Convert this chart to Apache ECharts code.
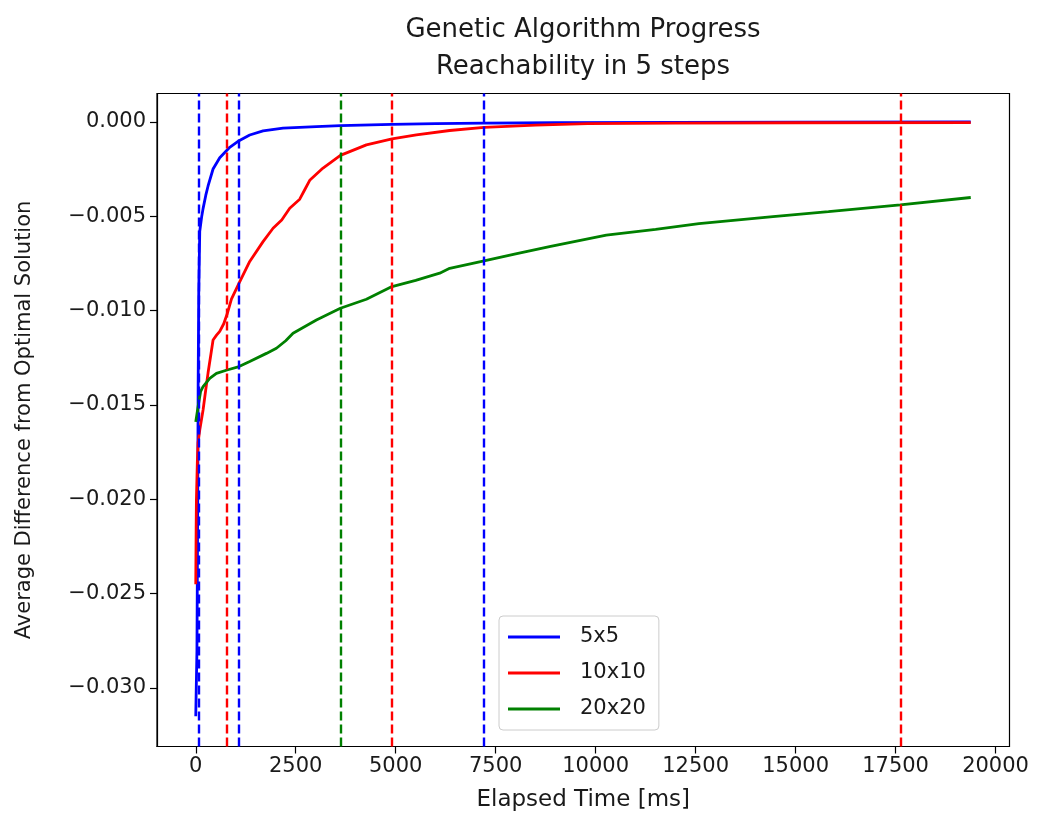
<!DOCTYPE html>
<html>
<head>
<meta charset="utf-8">
<script src="https://cdn.jsdelivr.net/npm/echarts@6/dist/echarts.min.js"></script>
<style>
  html, body { margin: 0; padding: 0; background: #fff; }
  #main { width: 1037px; height: 822px; }
</style>
</head>
<body>
<div id="main"></div>
<script>
// 数据：各网格规模的平均差值（时间 ms -> 值）
var seriesNames = ['5x5', '10x10', '20x20'];
var seriesColors = ['#0000ff', '#ff0000', '#008000'];

var blueTimes = [0, 30, 50, 60, 75, 100, 150, 183, 250, 308, 433, 600, 850, 1083, 1350, 1683, 2183, 3017, 3617, 4900, 6000, 7200, 9000, 12000, 15000, 19380];
var blueValues = [-0.0315, -0.028, -0.020, -0.014, -0.009, -0.0058, -0.0050, -0.0046, -0.0039, -0.0034, -0.0025, -0.0019, -0.00135, -0.0010, -0.0007, -0.00048, -0.00034, -0.00025, -0.0002, -0.00014, -0.0001, -0.00007, -0.00005, -0.00003, -0.00002, -0.00001];

var redTimes = [0, 10, 17, 40, 58, 100, 183, 250, 308, 380, 433, 520, 600, 700, 783, 892, 1083, 1350, 1683, 1933, 2150, 2350, 2600, 2725, 2850, 3183, 3617, 4267, 4908, 5517, 6350, 7210, 8500, 9800, 12000, 15000, 19380];
var redValues = [-0.0245, -0.0215, -0.0200, -0.0180, -0.0170, -0.01633, -0.01527, -0.0142, -0.0133, -0.0123, -0.01156, -0.0113, -0.0111, -0.0107, -0.0102, -0.0094, -0.00855, -0.0074, -0.00635, -0.00564, -0.0052, -0.00458, -0.0041, -0.0036, -0.0031, -0.00245, -0.00178, -0.00122, -0.0009, -0.00069, -0.00046, -0.0003, -0.00018, -0.0001, -0.00007, -0.00005, -0.00004];

var greenTimes = [0, 58, 120, 183, 350, 517, 783, 1083, 1350, 1767, 2017, 2250, 2433, 3017, 3617, 4267, 4908, 5500, 6100, 6350, 7210, 8000, 8875, 10267, 11500, 12583, 14433, 15822, 17617, 19380];
var greenValues = [-0.0159, -0.0151, -0.0143, -0.01403, -0.0136, -0.01333, -0.01315, -0.01297, -0.0127, -0.01227, -0.0120, -0.0116, -0.0112, -0.0105, -0.00988, -0.0094, -0.00873, -0.0084, -0.00802, -0.00776, -0.00737, -0.0070, -0.0066, -0.0060, -0.0057, -0.0054, -0.00502, -0.00476, -0.0044, -0.00401];

// 竖直虚线位置 (ms)
var blueMarks = [75, 1083, 7210];
var redMarks = [783, 4908, 17618];
var greenMarks = [3617];

var xTicks = [0, 2500, 5000, 7500, 10000, 12500, 15000, 17500, 20000];
var yTicks = [-0.030, -0.025, -0.020, -0.015, -0.010, -0.005, 0.000];

var FONT = 'DejaVu Sans';

function zip(ts, vs) {
    var out = [];
    for (var i = 0; i < ts.length; i++) out.push([ts[i], vs[i]]);
    return out;
}

function makeSeries(idx, ts, vs, marks) {
    return {
        name: seriesNames[idx],
        type: 'line',
        symbol: 'none',
        data: zip(ts, vs),
        lineStyle: { color: seriesColors[idx], width: 2.8 },
        itemStyle: { color: seriesColors[idx] },
        animation: false,
        markLine: {
            silent: true,
            symbol: ['none', 'none'],
            label: { show: false },
            animation: false,
            lineStyle: { color: seriesColors[idx], type: [9, 4], width: 2.4 },
            data: marks.map(function (m) { return { xAxis: m }; })
        }
    };
}

var myChart = echarts.init(document.getElementById('main'));

var option = {
    backgroundColor: '#fff',
    textStyle: { fontFamily: FONT },
    title: {
        text: 'Genetic Algorithm Progress\nReachability in 5 steps',
        left: 583,
        top: 12,
        textAlign: 'center',
        padding: 0,
        textStyle: { fontFamily: FONT, fontSize: 26, fontWeight: 'normal', color: '#1a1a1a', lineHeight: 37 }
    },
    grid: {
        left: 157,
        top: 93.5,
        right: 27.5,
        bottom: 75.5,
        containLabel: false,
        outerBoundsMode: 'none',
        show: true,
        borderColor: '#000',
        borderWidth: 1.2,
        backgroundColor: 'transparent'
    },
    legend: {
        orient: 'vertical',
        left: 499,
        top: 616,
        data: seriesNames,
        icon: 'rect',
        itemWidth: 52,
        itemHeight: 3,
        itemGap: 14,
        padding: [10, 13, 10, 9],
        backgroundColor: 'rgba(255,255,255,0.8)',
        borderColor: '#cccccc',
        borderWidth: 1,
        borderRadius: 4,
        textStyle: { fontFamily: FONT, fontSize: 21, color: '#1a1a1a', lineHeight: 22, padding: [0, 0, 0, 15] }
    },
    xAxis: {
        type: 'value',
        min: -969,
        max: 20349,
        name: 'Elapsed Time [ms]',
        nameLocation: 'middle',
        nameGap: 42,
        nameTextStyle: { fontFamily: FONT, fontSize: 23, color: '#1a1a1a' },
        axisLine: { show: true, onZero: false, lineStyle: { color: '#000', width: 1.2 } },
        axisTick: { show: true, length: 7, customValues: xTicks, lineStyle: { color: '#000', width: 1.2 } },
        axisLabel: {
            customValues: xTicks,
            margin: 10,
            fontFamily: FONT,
            fontSize: 21,
            color: '#1a1a1a',
            formatter: function (v) { return String(v); }
        },
        splitLine: { show: false }
    },
    yAxis: {
        type: 'value',
        min: -0.0331,
        max: 0.0015,
        name: 'Average Difference from Optimal Solution',
        nameLocation: 'middle',
        nameGap: 122,
        nameTextStyle: { fontFamily: FONT, fontSize: 21, color: '#1a1a1a' },
        axisLine: { show: true, onZero: false, lineStyle: { color: '#000', width: 1.2 } },
        axisTick: { show: true, length: 7, customValues: yTicks, lineStyle: { color: '#000', width: 1.2 } },
        axisLabel: {
            customValues: yTicks,
            margin: 11,
            fontFamily: FONT,
            fontSize: 21,
            color: '#1a1a1a',
            formatter: function (v) {
                var s = Math.abs(v).toFixed(3);
                return (v < -1e-9 ? '\u2212' : '') + s;
            }
        },
        splitLine: { show: false }
    },
    series: [
        makeSeries(0, blueTimes, blueValues, blueMarks),
        makeSeries(1, redTimes, redValues, redMarks),
        makeSeries(2, greenTimes, greenValues, greenMarks)
    ]
};

myChart.setOption(option);
</script>
</body>
</html>
